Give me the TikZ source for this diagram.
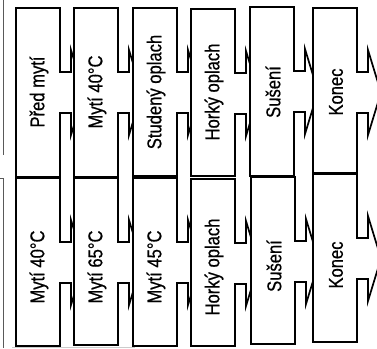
\documentclass[tikz,border=0pt]{standalone}
\usepackage{fontspec}
\setmainfont{Liberation Sans}[FakeStretch=0.83, FakeBold=0.6]
\usepackage{tikz}

\newcommand{\procstep}[6]{%
    \draw[stepline] (#2,#3) -- (#2+44,#3) -- (#2+44,#3+64) -- (#2+55,#3+64) -- (#2+55,#3+42)
        -- (#2+68,#3+84.5) -- (#2+55,#3+127) -- (#2+55,#3+105) -- (#2+44,#3+105)
        -- (#2+44,#4) -- (#2,#4) -- cycle;
    \node[steplabel] (#1) at (#2+23,#5) {#6};}

\begin{document}
\begin{tikzpicture}[x=1pt, y=-1pt,
    stepline/.style={draw=black, fill=white, line width=1.7pt, line join=miter},
    steplabel/.style={rotate=90, inner sep=0pt, font=\fontsize{20}{22}\selectfont},
    frameline/.style={draw=black!65, line width=0.8pt}]
    \useasboundingbox (0,0) rectangle (377,348);
    \clip (0,0) rectangle (377,348);
    \draw[frameline] (3,0) -- (3,155);
    \draw[frameline] (3,178) -- (3,348);
    \draw[frameline] (0,178) -- (3,178);
    \draw[draw=black!20, line width=0.8pt] (12,347) -- (135,347);
    \procstep{ta}{16}{8}{177}{92}{Před mytí}
    \procstep{tb}{74}{8}{177}{92}{Mytí 40°C}
    \procstep{tc}{133}{8}{176}{92}{Studený oplach}
    \procstep{td}{191}{9}{176}{92}{Horký oplach}
    \procstep{te}{250}{7}{176}{92}{Sušení}
    \procstep{tf}{313}{8}{173}{92}{Konec}
    \procstep{ba}{16}{178}{346}{267}{Mytí 40°C}
    \procstep{bb}{74}{178}{345}{267}{Mytí 65°C}
    \procstep{bc}{133}{178}{346}{267}{Mytí 45°C}
    \procstep{bd}{191}{179}{346}{267}{Horký oplach}
    \procstep{be}{251}{177}{344}{266}{Sušení}
    \procstep{bf}{313}{174}{342}{265}{Konec}
\end{tikzpicture}
\end{document}
